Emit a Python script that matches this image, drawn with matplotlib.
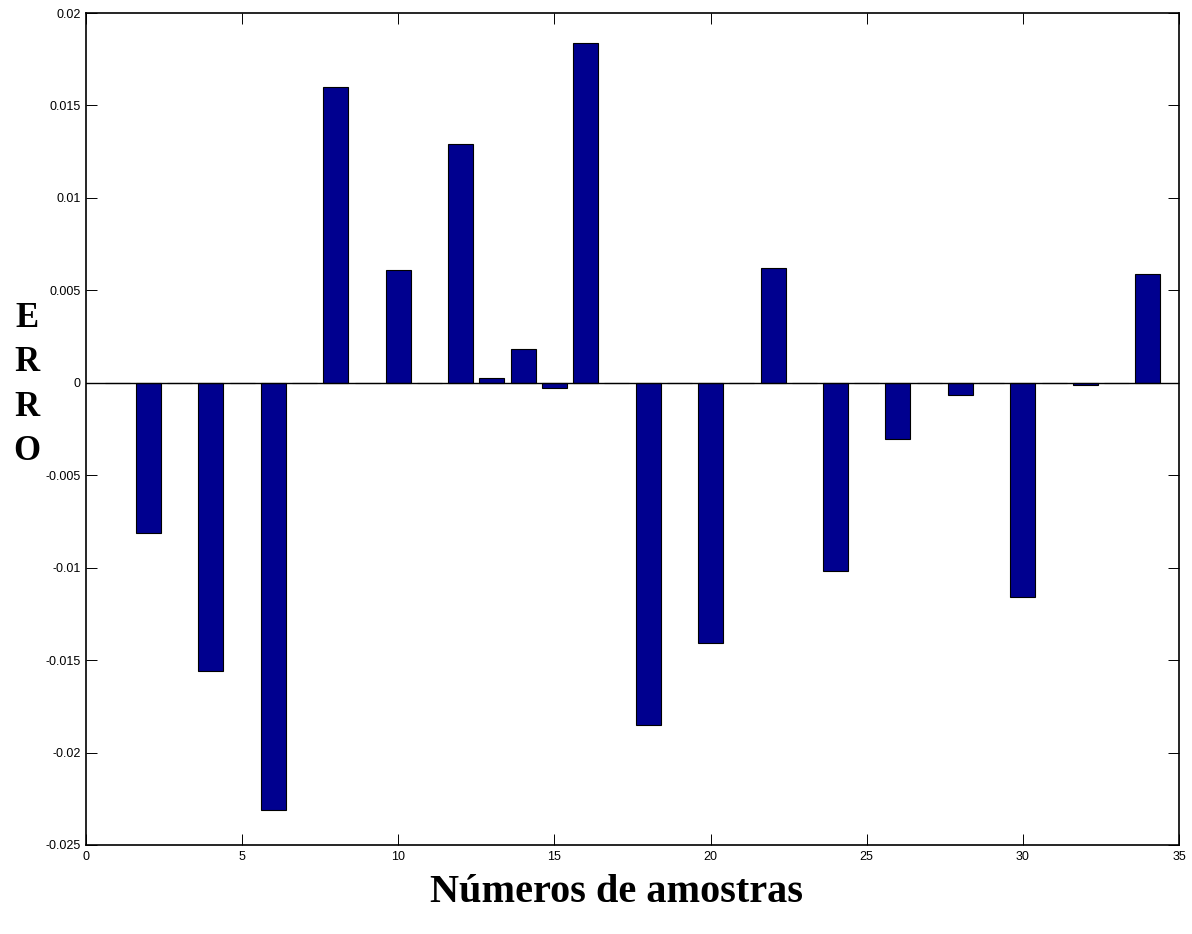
import matplotlib
matplotlib.use("Agg")
import matplotlib.pyplot as plt
import numpy as np

samples = list(range(1, 35))
errors = [0.0, -0.0081, 0.0, -0.0156, 0.0, -0.0231, 0.0, 0.0160, 0.0, 0.0061,
          0.0, 0.0129, 0.00024, 0.00185, -0.00027, 0.0184, 0.0, -0.0185, 0.0, -0.0141,
          0.0, 0.0062, 0.0, -0.0102, 0.0, -0.00305, 0.0, -0.00066, 0.0, -0.0116,
          0.0, -0.0001, 0.0, 0.0059]
xticks = [0, 5, 10, 15, 20, 25, 30, 35]
yticks = [-0.025, -0.02, -0.015, -0.01, -0.005, 0, 0.005, 0.01, 0.015, 0.02]
ytick_labels = ["-0.025", "-0.02", "-0.015", "-0.01", "-0.005", "0", "0.005", "0.01", "0.015", "0.02"]

fig = plt.figure(figsize=(11.92, 9.34), dpi=100)
ax = fig.add_axes([86/1192, 1 - 845/934, (1179-86)/1192, (845-13)/934])

ax.bar(samples, errors, width=0.8, color="#00008F", edgecolor="black", linewidth=0.8, zorder=2)
ax.axhline(0, color="black", linewidth=1.0, zorder=3)

ax.set_xlim(0, 35)
ax.set_ylim(-0.025, 0.02)
ax.set_xticks(xticks)
ax.set_xticklabels([str(t) for t in xticks])
ax.set_yticks(yticks)
ax.set_yticklabels(ytick_labels)
ax.tick_params(direction="in", length=8, width=0.7, top=True, right=True,
               labelsize=9, pad=4)
for lab in ax.get_xticklabels() + ax.get_yticklabels():
    lab.set_fontfamily("Liberation Sans")
for sp in ax.spines.values():
    sp.set_linewidth(1.2)

fig.text(617/1192, 1 - 893/934, "Números de amostras", ha="center", va="center",
         fontfamily="Liberation Serif", fontweight="bold", fontsize=29)
fig.text(27/1192, 1 - 385/934, "E\nR\nR\nO", ha="center", va="center",
         fontfamily="Liberation Serif", fontweight="bold", fontsize=25,
         linespacing=1.45)

fig.savefig("out.png", dpi=100)
